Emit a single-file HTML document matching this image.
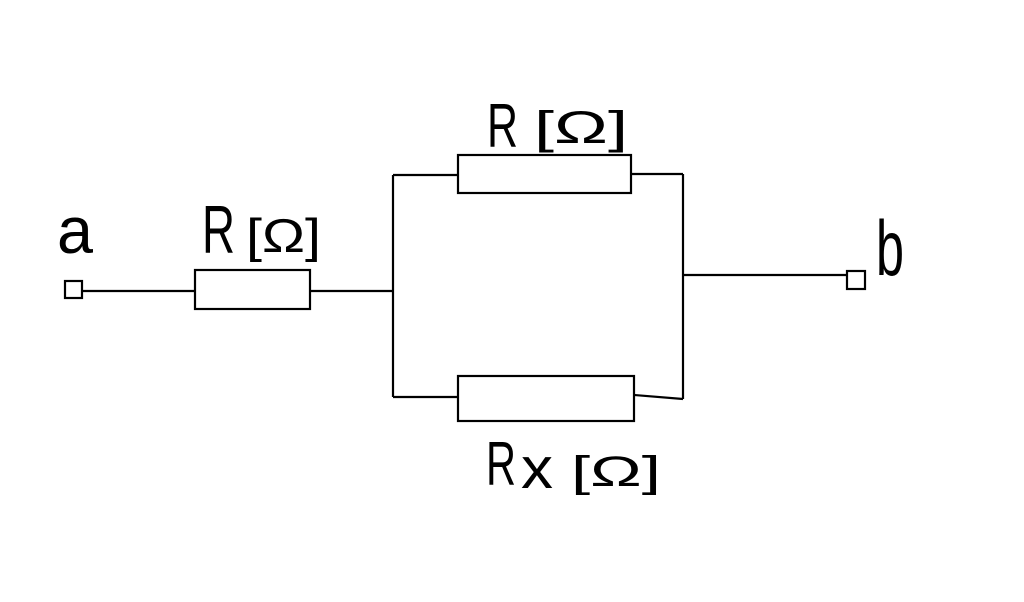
<!DOCTYPE html>
<html>
<head>
<meta charset="utf-8">
<style>
  html,body{margin:0;padding:0;background:#fff;}
  svg{display:block;}
  text{font-family:"Liberation Sans",sans-serif;fill:#000;}
</style>
</head>
<body>
<svg width="1024" height="602" viewBox="0 0 1024 602" xmlns="http://www.w3.org/2000/svg">
  <rect width="1024" height="602" fill="#fff"/>
  <g fill="none" stroke="#000" stroke-width="2.2">
    <!-- terminal a -->
    <rect x="65" y="281" width="17" height="17"/>
    <line x1="82" y1="291" x2="195" y2="291"/>
    <!-- series resistor -->
    <rect x="195" y="270" width="115" height="39"/>
    <line x1="310" y1="291" x2="393" y2="291"/>
    <!-- left vertical -->
    <line x1="393" y1="175" x2="393" y2="397"/>
    <!-- top branch -->
    <line x1="393" y1="175" x2="458" y2="175"/>
    <rect x="458" y="155" width="173" height="38"/>
    <line x1="631" y1="174" x2="683" y2="174"/>
    <!-- bottom branch -->
    <line x1="393" y1="397" x2="458" y2="397"/>
    <rect x="458" y="376" width="176" height="45"/>
    <line x1="634" y1="395" x2="683" y2="399"/>
    <!-- right vertical -->
    <line x1="683" y1="174" x2="683" y2="399"/>
    <!-- to terminal b -->
    <line x1="683" y1="275" x2="847" y2="275"/>
    <rect x="847" y="271" width="18" height="18"/>
  </g>

  <!-- labels -->
  <text x="57" y="253" font-size="66" textLength="36" lengthAdjust="spacingAndGlyphs">a</text>
  <text x="202" y="253" font-size="68" textLength="33" lengthAdjust="spacingAndGlyphs">R</text>
  <text x="246" y="252" font-size="47" textLength="75" lengthAdjust="spacingAndGlyphs">[Ω]</text>

  <text x="487" y="147" font-size="62" textLength="31" lengthAdjust="spacingAndGlyphs">R</text>
  <text x="534" y="143" font-size="45" textLength="94" lengthAdjust="spacingAndGlyphs">[Ω]</text>

  <text x="486" y="485" font-size="62" textLength="30" lengthAdjust="spacingAndGlyphs">R</text>
  <text x="521" y="488" font-size="58" textLength="32" lengthAdjust="spacingAndGlyphs">x</text>
  <text x="571" y="486" font-size="43" textLength="90" lengthAdjust="spacingAndGlyphs">[Ω]</text>

  <text x="876" y="275" font-size="78" textLength="28" lengthAdjust="spacingAndGlyphs">b</text>
</svg>
</body>
</html>
